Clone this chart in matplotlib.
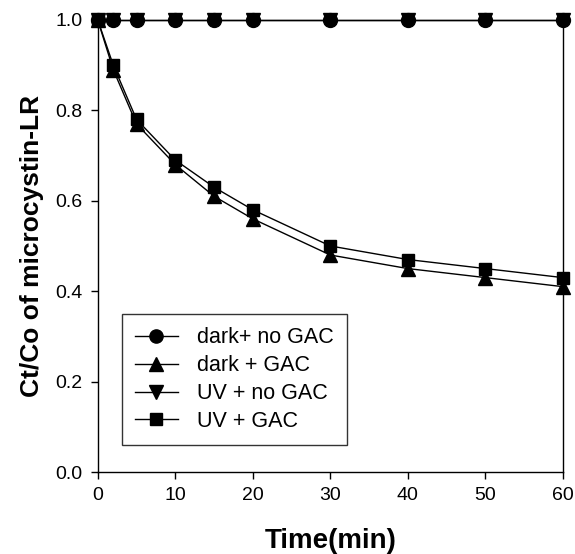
import matplotlib
matplotlib.use('Agg')
import matplotlib.pyplot as plt

plt.rcParams['font.family'] = ['Liberation Sans', 'DejaVu Sans']

# Sampling times (min)
time = [0, 2, 5, 10, 15, 20, 30, 40, 50, 60]

# Ct/Co for each condition
dark_no_gac = [1.0, 1.0, 1.0, 1.0, 1.0, 1.0, 1.0, 1.0, 1.0, 1.0]
dark_gac = [1.0, 0.89, 0.77, 0.68, 0.61, 0.56, 0.48, 0.45, 0.43, 0.41]
uv_no_gac = [1.0, 1.0, 1.0, 1.0, 1.0, 1.0, 1.0, 1.0, 1.0, 1.0]
uv_gac = [1.0, 0.90, 0.78, 0.69, 0.63, 0.58, 0.50, 0.47, 0.45, 0.43]

fig = plt.figure(figsize=(5.75, 5.54), dpi=100)
ax = fig.add_axes([0.170, 0.148, 0.809, 0.816])

ms = 10
ax.plot(time, dark_no_gac, '-o', color='black', lw=1, ms=ms, label='dark+ no GAC', clip_on=False, zorder=3)
ax.plot(time, dark_gac, '-^', color='black', lw=1, ms=ms, label='dark + GAC', clip_on=False, zorder=3)
ax.plot(time, uv_no_gac, '-v', color='black', lw=1, ms=ms, label='UV + no GAC', clip_on=False, zorder=3)
ax.plot(time, uv_gac, '-s', color='black', lw=1, ms=ms - 1, label='UV + GAC', clip_on=False, zorder=3)

ax.set_xlim(0, 60)
ax.set_ylim(0, 1.0)
ax.set_xticks(range(0, 61, 10))
ax.set_yticks([0.0, 0.2, 0.4, 0.6, 0.8, 1.0])
ax.set_yticklabels(['0.0', '0.2', '0.4', '0.6', '0.8', '1.0'])
ax.tick_params(direction='out', length=5, width=1, labelsize=14, pad=6, top=False, right=False)

for s in ax.spines.values():
    s.set_linewidth(1)
ax.spines['top'].set_visible(False)

ax.set_xlabel('Time(min)', fontsize=20, fontweight='bold', labelpad=17)
ax.set_ylabel('Ct/Co of microcystin-LR', fontsize=19, fontweight='bold', labelpad=8)

leg = ax.legend(loc='lower left', bbox_to_anchor=(0.052, 0.060), fontsize=15.5,
                frameon=True, fancybox=False, edgecolor='black', handlelength=2.0,
                handletextpad=0.9, labelspacing=0.32, borderpad=0.6, borderaxespad=0,
                markerscale=0.95)
leg.get_frame().set_linewidth(1)

fig.savefig('out.png', dpi=100)
